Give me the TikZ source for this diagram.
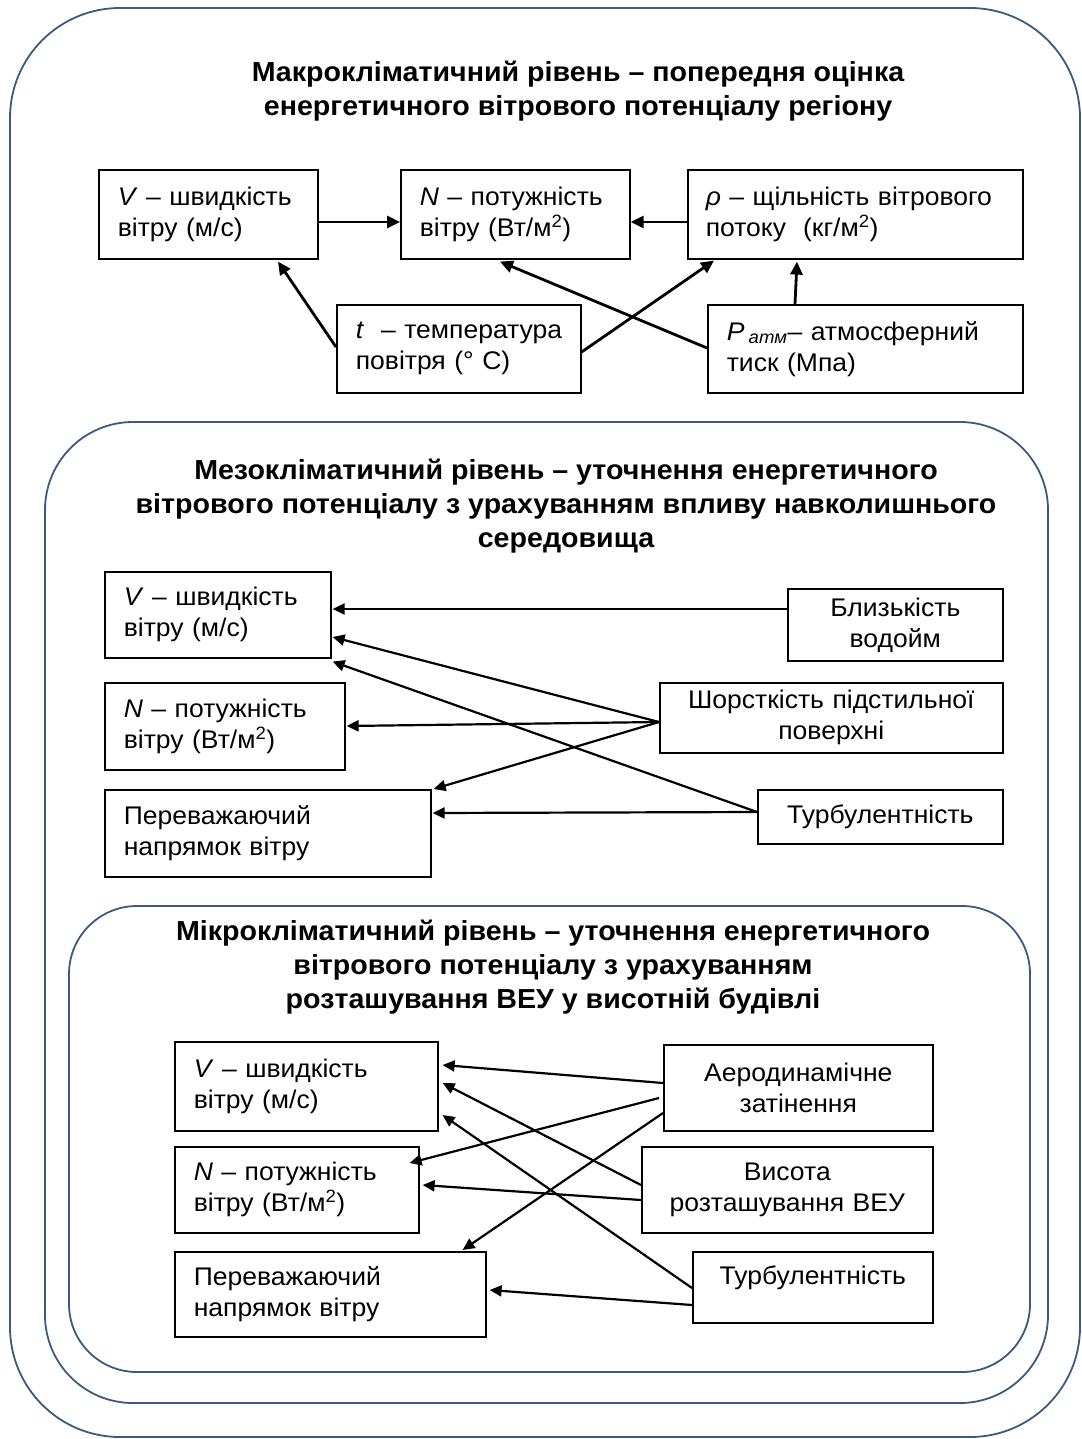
\documentclass[tikz,border=0pt]{standalone}
\usepackage{fontspec}
\setmainfont[FakeStretch=1.04]{Liberation Sans}
\usetikzlibrary{arrows.meta,calc}
\definecolor{frameblue}{RGB}{58,90,130}
\begin{document}
\begin{tikzpicture}[x=1pt,y=-1pt,
  frame/.style={draw=frameblue,line width=1.8pt},
  bx/.style={draw,line width=1.6pt,anchor=north west,inner ysep=0pt,inner xsep=19pt,
    font=\fontsize{25.5}{31}\selectfont,align=left},
  cbx/.style={bx,align=center,inner xsep=2pt},
  ttl/.style={font=\fontsize{27.5}{34}\selectfont\bfseries,align=center},
  arrT/.style={line width=2.8pt,-{Triangle[length=13pt,width=12pt]}},
  arrM/.style={line width=2.2pt,-{Triangle[length=12pt,width=11pt]}}]
\useasboundingbox (0,0) rectangle (1081,1439);
% frames
\draw[frame,rounded corners=110pt] (10,8) rectangle (1080,1437);
\draw[frame,rounded corners=88pt] (45,422) rectangle (1048,1403);
\draw[frame,rounded corners=68pt] (69,906) rectangle (1030,1372);
% titles
\node[ttl] (T1) at (578,91) {Макрокліматичний рівень – попередня оцінка\\енергетичного вітрового потенціалу регіону};
\node[ttl] (T2) at (566,506) {Мезокліматичний рівень – уточнення енергетичного\\вітрового потенціалу з урахуванням впливу навколишнього\\середовища};
\node[ttl] (T3) at (553,967) {Мікрокліматичний рівень – уточнення енергетичного\\вітрового потенціалу з урахуванням\\розташування ВЕУ у висотній будівлі};
% top boxes
\node[bx,minimum width=219pt,minimum height=89pt,text width=181pt] (V) at (98,169) {\textit{V} – швидкість\\вітру (м/с)};
\node[bx,minimum width=229pt,minimum height=89pt,text width=191pt] (N) at (400,169) {\textit{N} – потужність\\вітру (Вт/м\textsuperscript{2})};
\node[bx,minimum width=335pt,minimum height=89pt,inner xsep=18pt,text width=299pt] (rho) at (687,169) {\textit{ρ} – щільність вітрового\\потоку~~(кг/м\textsuperscript{2})};
\node[bx,minimum width=244pt,minimum height=88pt,text width=206pt] (t) at (336,304) {\mbox{\textit{t}~~– температура}\\повітря (° C)};
\node[bx,minimum width=315pt,minimum height=88pt,text width=277pt] (P) at (707,304) {\textit{P}\,\textsubscript{\textit{атм}}– атмосферний\\тиск (Мпа)};
\draw[arrT] ($(V.north east)+(0,53)$) -- ($(N.north west)+(0,53)$);
\draw[arrT] ($(rho.north west)+(0,53)$) -- ($(N.north east)+(0,53)$);
\draw[arrT] ($(t.north west)+(0,43)$) -- ($(V.south west)+(180,2)$);
\draw[arrT] ($(t.north east)+(0,48)$) -- ($(rho.south west)+(27,1)$);
\draw[arrT] ($(P.north west)+(0,44)$) -- ($(N.south west)+(100,2)$);
\draw[arrT] ($(P.north west)+(88,0)$) -- ($(rho.south west)+(110,2)$);
% middle boxes
\node[bx,minimum width=226pt,minimum height=86pt,text width=188pt] (M1) at (104,571) {\textit{V} – швидкість\\вітру (м/с)};
\node[bx,minimum width=240pt,minimum height=87pt,text width=202pt] (M2) at (104,682) {\textit{N} – потужність\\вітру (Вт/м\textsuperscript{2})};
\node[bx,minimum width=326pt,minimum height=87pt,text width=288pt] (M3) at (104,789) {Переважаючий\\напрямок вітру};
\node[cbx,minimum width=215pt,minimum height=72pt,text width=211pt] (R1) at (787,588) {Близькість\\водойм};
\node[cbx,minimum width=343pt,minimum height=70pt,text width=339pt] (R2) at (659,682) {Шорсткість підстильної\\поверхні};
\node[cbx,minimum width=245pt,minimum height=54pt,text width=241pt] (R3) at (757,789) {Турбулентність};
\draw[arrM] ($(R1.north west)+(0,21)$) -- ($(M1.north east)+(1,38)$);
\draw[arrM] ($(R2.north west)+(0,40)$) -- ($(M1.north east)+(1,66)$);
\draw[arrM] ($(R2.north west)+(0,40)$) -- ($(M2.north east)+(1,44)$);
\draw[arrM] ($(R2.north west)+(0,40)$) -- ($(M3.north east)+(2,0)$);
\draw[arrM] ($(R3.north west)+(0,23)$) -- ($(M1.south east)+(1,3)$);
\draw[arrM] ($(R3.north west)+(0,23)$) -- ($(M3.north east)+(1,24)$);
% bottom boxes
\node[bx,minimum width=263pt,minimum height=89pt,text width=225pt] (L1) at (174,1041) {\textit{V} – швидкість\\вітру (м/с)};
\node[bx,minimum width=244pt,minimum height=86pt,text width=206pt] (L2) at (174,1146) {\textit{N} – потужність\\вітру (Вт/м\textsuperscript{2})};
\node[bx,minimum width=311pt,minimum height=85pt,text width=273pt] (L3) at (174,1251) {Переважаючий\\напрямок вітру};
\node[cbx,minimum width=269pt,minimum height=86pt,text width=265pt] (Q1) at (663,1044) {Аеродинамічне\\затінення};
\node[cbx,minimum width=291pt,minimum height=86pt,text width=287pt] (Q2) at (641,1146) {Висота\\розташування ВЕУ};
\node[cbx,minimum width=240pt,minimum height=71pt,text width=236pt] (Q3) at (692,1251) {Турбулентність\\[-6pt]~};
\draw[arrM] ($(Q1.north west)+(0,39)$) -- ($(L1.north east)+(4,24)$);
\draw[arrM] ($(Q1.north west)+(-4,54)$) -- ($(L2.north east)+(-10,17)$);
\draw[arrM] ($(Q1.north west)+(0,69)$) -- ($(L3.north east)+(-24,-1)$);
\draw[arrM] ($(Q2.north west)+(0,39)$) -- ($(L1.north east)+(4,42)$);
\draw[arrM] ($(Q2.north west)+(0,54)$) -- ($(L2.north east)+(3,39)$);
\draw[arrM] ($(Q3.north west)+(0,37)$) -- ($(L1.north east)+(4,74)$);
\draw[arrM] ($(Q3.north west)+(0,54)$) -- ($(L3.north east)+(3,39)$);
\end{tikzpicture}
\end{document}
